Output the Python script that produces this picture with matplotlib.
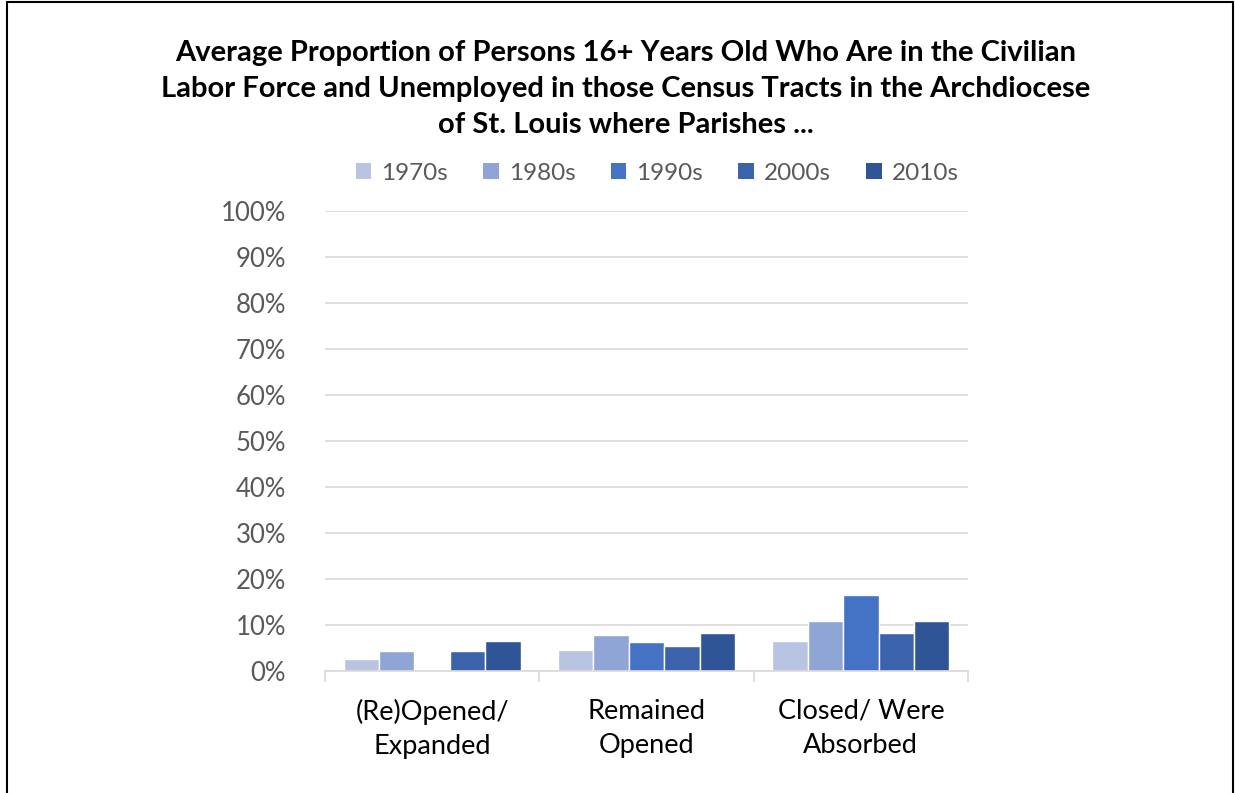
import matplotlib
matplotlib.use("Agg")
import matplotlib.pyplot as plt
from matplotlib.patches import Rectangle, Patch
import numpy as np

plt.rcParams['font.family'] = ['Lato', 'DejaVu Sans']

categories = ["(Re)Opened/\nExpanded", "Remained\nOpened", "Closed/ Were\nAbsorbed"]
series_names = ["1970s", "1980s", "1990s", "2000s", "2010s"]
values = {
    "1970s": [2.6, 4.5, 6.5],
    "1980s": [4.3, 7.8, 10.9],
    "1990s": [0.0, 6.4, 16.5],
    "2000s": [4.3, 5.5, 8.2],
    "2010s": [6.5, 8.2, 10.9],
}
colors = ["#B9C3E2", "#8FA5D5", "#4472C4", "#3A63AB", "#2F5597"]
yticks = list(range(0, 101, 10))
title = ("Average Proportion of Persons 16+ Years Old Who Are in the Civilian\n"
         "Labor Force and Unemployed in those Census Tracts in the Archdiocese\n"
         "of St. Louis where Parishes ...")

W, H = 1235, 793
fig = plt.figure(figsize=(W / 100, H / 100), dpi=100)
fig.patch.set_facecolor("white")

# border
fig.add_artist(Rectangle((7 / W, -0.01), (1233 - 7) / W, (H - 2) / H + 0.01,
                         transform=fig.transFigure, fill=False,
                         edgecolor="black", linewidth=1.5))

ax = fig.add_axes([325 / W, 1 - 671 / H, (968 - 325) / W, (671 - 211) / H])
x = np.arange(len(categories))
slot = 0.165
for i, (name, c) in enumerate(zip(series_names, colors)):
    offs = (i - 2) * slot
    ax.bar(x + offs, values[name], width=slot, color=c, edgecolor="white",
           linewidth=1.0, label=name, zorder=3)

ax.set_xlim(-0.5, len(categories) - 0.5)
ax.set_ylim(0, 100)
ax.set_yticks(yticks)
ax.set_yticklabels([f"{t}%" for t in yticks], color="#595959", fontsize=18.5)
ax.tick_params(axis="y", length=0, pad=28)
ax.grid(axis="y", color="#D9D9D9", linewidth=1.2, zorder=0)
for s in ["top", "right", "left"]:
    ax.spines[s].set_visible(False)
ax.spines["bottom"].set_color("#D9D9D9")
ax.spines["bottom"].set_linewidth(1.2)
ax.spines["bottom"].set_zorder(4)

ax.set_xticks(np.arange(-0.5, len(categories), 1.0))
ax.set_xticklabels([])
ax.tick_params(axis="x", length=8, color="#D9D9D9", width=1.2)
for xi, lab in zip(x, categories):
    ax.text(xi, -6.0, lab, ha="center", va="top", fontsize=19.5,
            color="black", linespacing=1.45)

fig.text(626 / W, 1 - 89 / H, title, ha="center", va="center",
         fontsize=21, fontweight="bold", linespacing=1.47)

handles = [Patch(facecolor=c, edgecolor="none") for c in colors]
leg = fig.legend(handles, series_names, loc="center", ncol=5,
                 bbox_to_anchor=(657 / W, 1 - 173 / H), frameon=False,
                 fontsize=17.5, handlelength=0.65, handleheight=0.65,
                 handletextpad=0.4, columnspacing=1.45)
for t in leg.get_texts():
    t.set_color("#595959")

fig.savefig("out.png", dpi=100)
